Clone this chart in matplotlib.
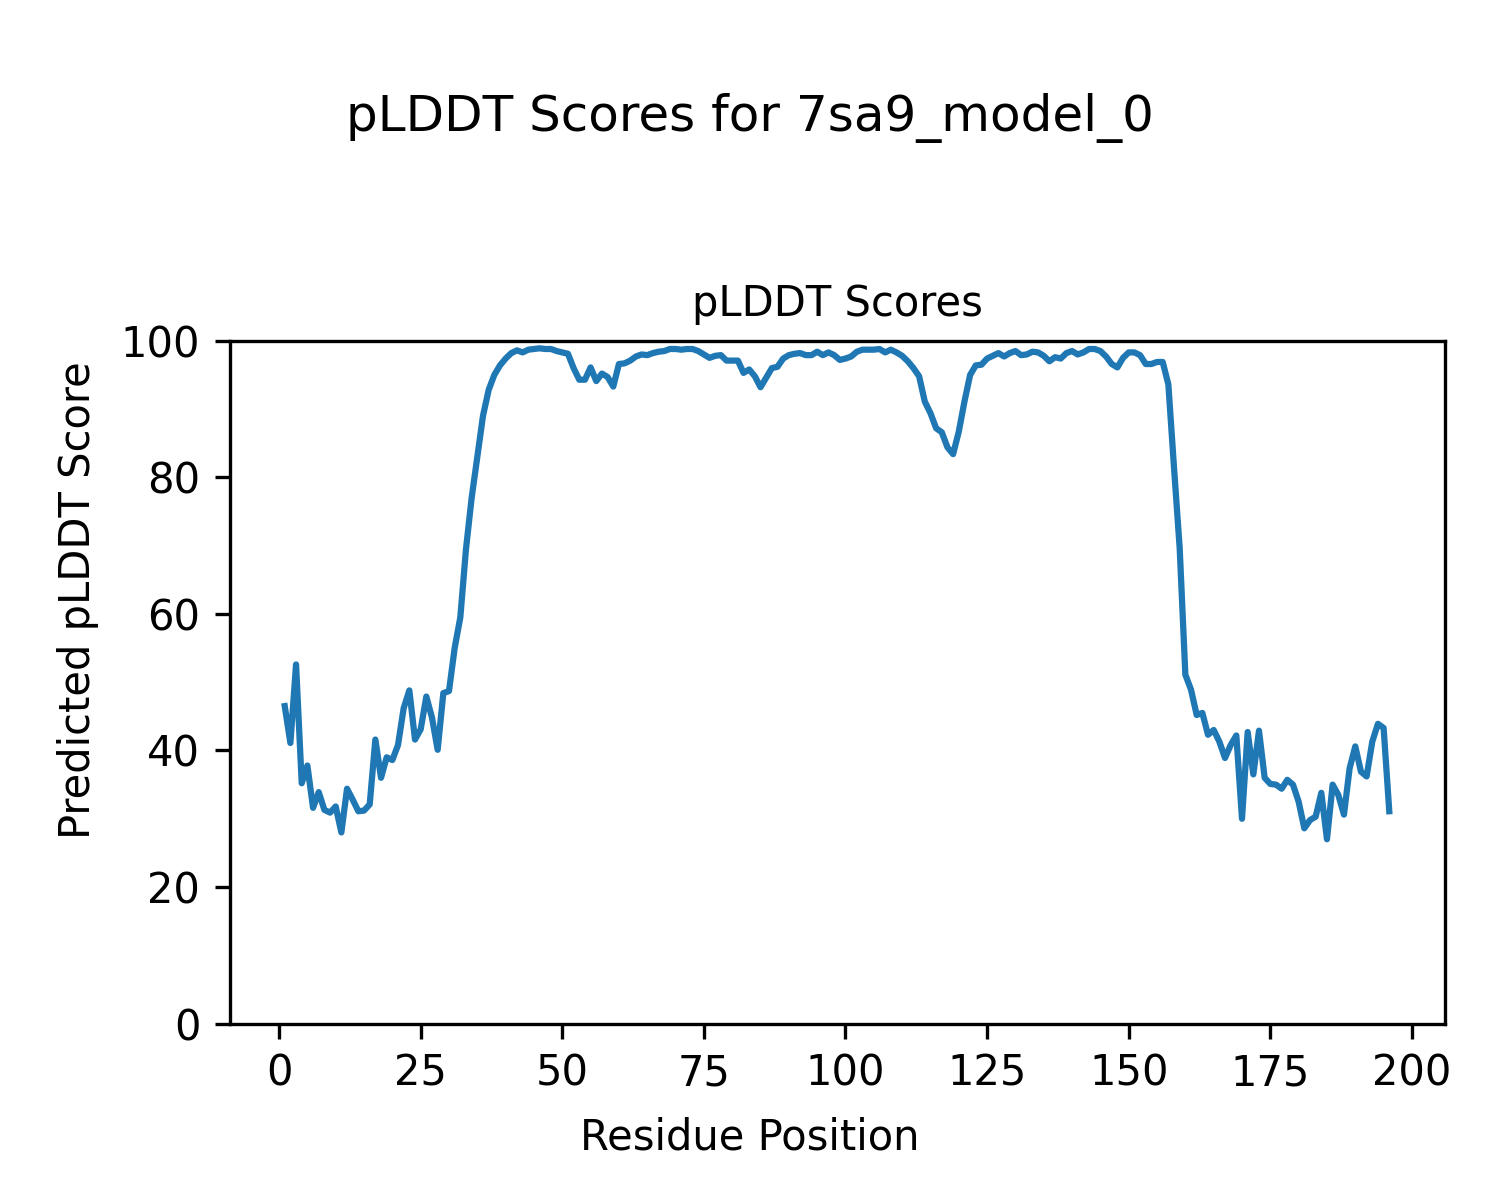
import numpy as np
import matplotlib
matplotlib.use("Agg")
import matplotlib.pyplot as plt

model_name = "7sa9_model_0"

# pLDDT per residue (residues 1..196)
plddt_1_40 = [46.5, 41.1, 52.6, 35.2, 37.8, 31.6, 33.9, 31.3, 30.9, 31.8,
              28.0, 34.4, 32.8, 31.1, 31.2, 32.1, 41.6, 36.0, 39.0, 38.6,
              40.8, 46.2, 48.8, 41.6, 43.1, 47.9, 44.8, 40.1, 48.4, 48.7,
              55.0, 59.5, 69.5, 77.0, 83.0, 89.0, 92.8, 95.0, 96.4, 97.4]
plddt_41_80 = [98.2, 98.6, 98.3, 98.7, 98.8, 98.9, 98.8, 98.8, 98.5, 98.3,
               98.1, 96.0, 94.3, 94.3, 96.1, 94.1, 95.2, 94.7, 93.3, 96.6,
               96.7, 97.1, 97.7, 98.0, 97.9, 98.2, 98.4, 98.5, 98.8, 98.8,
               98.7, 98.8, 98.8, 98.5, 98.0, 97.5, 97.8, 97.9, 97.1, 97.1]
plddt_81_120 = [97.1, 95.3, 95.8, 94.8, 93.2, 94.6, 96.0, 96.2, 97.4, 97.9,
                98.1, 98.2, 97.9, 97.9, 98.4, 97.9, 98.3, 97.9, 97.2, 97.4,
                97.7, 98.4, 98.7, 98.7, 98.7, 98.8, 98.3, 98.7, 98.3, 97.8,
                97.0, 96.0, 94.8, 91.1, 89.4, 87.2, 86.6, 84.4, 83.4, 86.7]
plddt_121_160 = [91.1, 95.0, 96.4, 96.5, 97.4, 97.8, 98.2, 97.7, 98.2, 98.5,
                 97.9, 98.0, 98.4, 98.3, 97.8, 97.0, 97.6, 97.4, 98.2, 98.5,
                 98.0, 98.3, 98.8, 98.8, 98.5, 97.7, 96.6, 96.1, 97.5, 98.3,
                 98.3, 97.9, 96.6, 96.6, 96.9, 96.9, 93.6, 81.4, 69.6, 51.1]
plddt_161_196 = [48.9, 45.2, 45.5, 42.3, 43.0, 41.3, 38.9, 40.8, 42.2, 30.0,
                 42.7, 36.5, 42.9, 36.0, 35.1, 35.0, 34.4, 35.7, 35.0, 32.5,
                 28.6, 29.8, 30.3, 33.8, 27.0, 35.0, 33.5, 30.6, 37.4, 40.6,
                 36.9, 36.2, 41.3, 43.9, 43.3, 31.1]

plddt = np.array(plddt_1_40 + plddt_41_80 + plddt_81_120 + plddt_121_160 + plddt_161_196)
residues = np.arange(1, len(plddt) + 1)

fig = plt.figure(figsize=(5, 4), dpi=300)
ax = fig.add_axes([0.153, 0.147, 0.81, 0.569])
ax.plot(residues, plddt, color='tab:blue', linewidth=1.5)
ax.set_ylim(0, 100)
ax.set_title('pLDDT Scores', fontsize=10)

# labels sit on the figure, not the axes
fig.supxlabel('Residue Position', fontsize=10, x=0.5, y=0.052, va='center')
fig.supylabel('Predicted pLDDT Score', fontsize=10, x=0.052, y=0.5, ha='center')
fig.suptitle(f'pLDDT Scores for {model_name}', fontsize=12, y=0.902, va='center')

plt.savefig('out.png', dpi=300)
